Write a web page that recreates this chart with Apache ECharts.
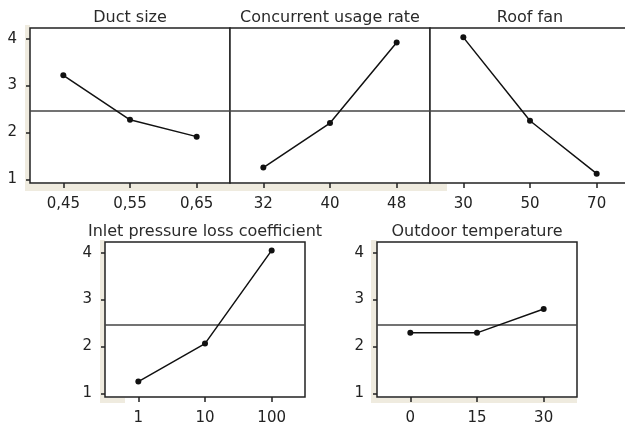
<!DOCTYPE html>
<html>
<head>
<meta charset="utf-8">
<script src="https://cdn.jsdelivr.net/npm/echarts@6/dist/echarts.min.js"></script>
<style>
html,body{margin:0;padding:0;background:#fff;}
#c{width:625px;height:427px;}
</style>
</head>
<body>
<div id="c"></div>
<script>
// ---- data ----
const panelTitles = ['Duct size', 'Concurrent usage rate', 'Roof fan', 'Inlet pressure loss coefficient', 'Outdoor temperature'];
const ductSizeLevels = ['0,45', '0,55', '0,65'];
const ductSizeMeans = [3.22, 2.27, 1.91];
const usageRateLevels = ['32', '40', '48'];
const usageRateMeans = [1.25, 2.20, 3.92];
const roofFanLevels = ['30', '50', '70'];
const roofFanMeans = [4.03, 2.25, 1.12];
const inletLevels = ['1', '10', '100'];
const inletMeans = [1.25, 2.06, 4.05];
const outdoorLevels = ['0', '15', '30'];
const outdoorMeans = [2.29, 2.29, 2.80];
const yTickValues = [1, 2, 3, 4];
const grandMean = 2.46;

const levels = [ductSizeLevels, usageRateLevels, roofFanLevels, inletLevels, outdoorLevels];
const means = [ductSizeMeans, usageRateMeans, roofFanMeans, inletMeans, outdoorMeans];

// ---- layout ----
const grids = [
  {left: 30, top: 28, width: 200, height: 155},
  {left: 230, top: 28, width: 200, height: 155},
  {left: 430, top: 28, width: 200, height: 155},
  {left: 105, top: 242, width: 200, height: 155},
  {left: 377, top: 242, width: 200, height: 155}
];
const showYLabels = [true, false, false, true, true];
const FONT = 'DejaVu Sans';

const beige = '#efebdf';
const graphic = [
  {type: 'rect', shape: {x: 25, y: 25, width: 5, height: 166}, style: {fill: beige}, silent: true, z: 0},
  {type: 'rect', shape: {x: 25, y: 184, width: 422, height: 7}, style: {fill: beige}, silent: true, z: 0},
  {type: 'rect', shape: {x: 100, y: 240, width: 5, height: 163}, style: {fill: beige}, silent: true, z: 0},
  {type: 'rect', shape: {x: 100, y: 398, width: 25, height: 5}, style: {fill: beige}, silent: true, z: 0},
  {type: 'rect', shape: {x: 371, y: 240, width: 6, height: 163}, style: {fill: beige}, silent: true, z: 0},
  {type: 'rect', shape: {x: 371, y: 398, width: 206, height: 5}, style: {fill: beige}, silent: true, z: 0}
];

const option = {
  backgroundColor: '#fff',
  animation: false,
  graphic: graphic,
  title: grids.map((g, i) => ({
    text: panelTitles[i],
    left: g.left + g.width / 2,
    top: i < 3 ? 10 : 224,
    textAlign: 'center',
    padding: 0,
    textStyle: {fontFamily: FONT, fontSize: 16, fontWeight: 'normal', color: '#2a2a2a'}
  })),
  grid: grids.map(g => Object.assign({
    show: true, backgroundColor: '#fff', borderColor: '#222', borderWidth: 1.5, z: 1,
    containLabel: false, outerBoundsMode: 'none'
  }, g)),
  xAxis: grids.map((g, i) => ({
    type: 'category',
    gridIndex: i,
    data: levels[i],
    boundaryGap: true,
    axisLine: {show: false},
    axisTick: {show: true, alignWithLabel: true, inside: false, length: 5, lineStyle: {color: '#222', width: 1.5}},
    axisLabel: {margin: 14, fontFamily: FONT, fontSize: 15, color: '#222'},
    splitLine: {show: false}
  })),
  yAxis: grids.map((g, i) => ({
    type: 'value',
    gridIndex: i,
    min: 0.92,
    max: 4.23,
    axisLine: {show: false},
    axisTick: {show: showYLabels[i], length: 4, customValues: yTickValues, lineStyle: {color: '#222', width: 1.5}},
    axisLabel: {show: showYLabels[i], margin: 13, customValues: yTickValues, fontFamily: FONT, fontSize: 15, color: '#222'},
    splitLine: {show: false}
  })),
  series: grids.map((g, i) => ({
    type: 'line',
    xAxisIndex: i,
    yAxisIndex: i,
    data: means[i],
    symbol: 'circle',
    symbolSize: 6,
    itemStyle: {color: '#111'},
    lineStyle: {color: '#111', width: 1.5},
    z: 3,
    markLine: {
      silent: true,
      symbol: 'none',
      label: {show: false},
      lineStyle: {color: '#444', width: 1.5, type: 'solid'},
      data: [{yAxis: grandMean}],
      z: 2
    }
  }))
};

const chart = echarts.init(document.getElementById('c'), null, {renderer: 'canvas'});
chart.setOption(option);
</script>
</body>
</html>
